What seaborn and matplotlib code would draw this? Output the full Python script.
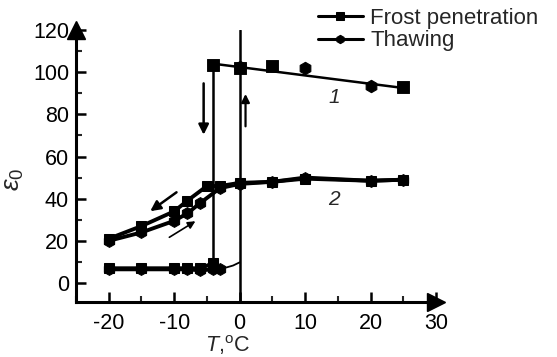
import numpy as np
import pandas as pd
import matplotlib
matplotlib.use("Agg")
import matplotlib.pyplot as plt
import seaborn as sns
from matplotlib.ticker import MultipleLocator

sns.set_theme(style="white")
plt.rcParams['font.family'] = ['Liberation Sans', 'DejaVu Sans']
plt.rcParams['mathtext.fontset'] = 'custom'
plt.rcParams['mathtext.rm'] = 'Liberation Sans'
plt.rcParams['mathtext.it'] = 'Liberation Sans:italic'
plt.rcParams['axes.unicode_minus'] = False

# ---- data ----
# curve 1 (upper branch)
c1_frost_T = [25, 5, 0, -4]
c1_frost_e = [93, 103, 102, 103.5]
c1_thaw_T = [20, 10, 0]
c1_thaw_e = [93.5, 102, 102.5]
c1_fit_T = [-4, 25]
c1_fit_e = [104, 92.5]
drop_T = [-4, -4]
drop_e = [8, 104]

# curve 1 lower branch (frozen state)
low_frost_T = [-4, -6, -8, -10, -15, -20]
low_frost_e = [9.5, 7, 7, 7, 7, 7]
low_thaw_T = [-20, -15, -10, -8, -6, -4, -3]
low_thaw_e = [6.5, 6.5, 6.5, 6.5, 6, 6.5, 6.5]
low_tail_T = [-3, -2, -1, 0]
low_tail_e = [7, 7.4, 8.3, 9.8]

# curve 2
c2_frost_T = [25, 20, 10, 5, 0, -3, -5, -8, -10, -15, -20]
c2_frost_e = [49, 48.5, 49.5, 48, 47.5, 46, 46, 39, 34, 27, 21]
c2_thaw_T = [-20, -15, -10, -8, -6, -3, 0, 5, 10, 20, 25]
c2_thaw_e = [20, 24, 29.5, 33, 38, 45, 47, 48, 50, 48.5, 49]

fig = plt.figure(figsize=(5.57, 3.57), dpi=100)
ax = fig.add_axes([76/557, 1-302/357, 360/557, 272/357])

lw = 2.8
ms = 7.5
kw = dict(sort=False, estimator=None, ax=ax, color='black')
# frost lines
sns.lineplot(x=c2_frost_T, y=c2_frost_e, lw=lw, marker='s', markersize=ms,
             markeredgecolor='black', label='Frost penetration', **kw)
sns.lineplot(x=low_frost_T, y=low_frost_e, lw=lw, marker='s', markersize=ms,
             markeredgecolor='black', **kw)
# thaw lines
sns.lineplot(x=c2_thaw_T, y=c2_thaw_e, lw=lw, marker='h', markersize=ms + 1,
             markeredgecolor='black', label='Thawing', **kw)
sns.lineplot(x=low_thaw_T, y=low_thaw_e, lw=lw, marker='h', markersize=ms + 1,
             markeredgecolor='black', **kw)
sns.lineplot(x=low_tail_T, y=low_tail_e, lw=1.3, **kw)

# curve 1 points and fit
sns.lineplot(x=c1_fit_T, y=c1_fit_e, lw=1.8, **kw)
sns.lineplot(x=drop_T, y=drop_e, lw=1.8, **kw)
sns.scatterplot(x=c1_frost_T, y=c1_frost_e, ax=ax, color='black', marker='s', s=65, edgecolor='black')
sns.scatterplot(x=c1_thaw_T, y=c1_thaw_e, ax=ax, color='black', marker='h', s=80, edgecolor='black')
ax.axvline(0, color='black', lw=1.8)

# arrows
ap = dict(arrowstyle='-|>', color='black', lw=1.8, mutation_scale=15)
ax.annotate('', xy=(-5.5, 69), xytext=(-5.5, 96), arrowprops=ap)
ax.annotate('', xy=(0.9, 91), xytext=(0.9, 73), arrowprops=dict(ap, lw=1.6, mutation_scale=12))
ax.annotate('', xy=(-14, 33.3), xytext=(-9.3, 43.8), arrowprops=ap)
ax.annotate('', xy=(-6.4, 30), xytext=(-11.1, 21), arrowprops=dict(ap, lw=1.2, mutation_scale=11))

ax.text(14.4, 88, '1', fontsize=15, style='italic', ha='center', va='center')
ax.text(14.4, 39.5, '2', fontsize=15, style='italic', ha='center', va='center')

ax.set_xlim(-25, 30)
ax.set_ylim(-9, 120)
ax.xaxis.set_minor_locator(MultipleLocator(5))
ax.yaxis.set_minor_locator(MultipleLocator(10))
ax.set_xticks([-20, -10, 0, 10, 20, 30])
ax.set_yticks([0, 20, 40, 60, 80, 100, 120])
ax.tick_params(which='major', direction='in', length=7, width=1.8, labelsize=15.5,
               bottom=True, left=True, pad=5, colors='black')
ax.tick_params(axis='x', which='major', pad=8)
ax.tick_params(which='minor', direction='in', length=4, width=1.5, bottom=True, left=True)
for s in ['top', 'right']:
    ax.spines[s].set_visible(False)
for s in ['left', 'bottom']:
    ax.spines[s].set_linewidth(2.2)
    ax.spines[s].set_color('black')

# axis arrows
ax.plot(1, 0, '>', color='black', markersize=13, transform=ax.transAxes, clip_on=False)
ax.plot(0, 1, '^', color='black', markersize=13, transform=ax.transAxes, clip_on=False)

ax.set_xlabel(r'$T$,$^{\rm o}$C', fontsize=15.5)
ax.set_ylabel(r'$\varepsilon_0$', fontsize=19)
ax.xaxis.set_label_coords(0.42, -0.115)
ax.yaxis.set_label_coords(-0.14, 0.45)

leg = ax.legend(loc='upper left', bbox_to_anchor=(316/557, 1 - 6/357), bbox_transform=fig.transFigure,
                frameon=False, fontsize=16, handlelength=2.0, handletextpad=0.35,
                labelspacing=0.05, borderaxespad=0, borderpad=0.1)
for h in leg.legend_handles:
    h.set_markersize(6)
    h.set_linewidth(2.2)

fig.savefig('out.png', dpi=100)
